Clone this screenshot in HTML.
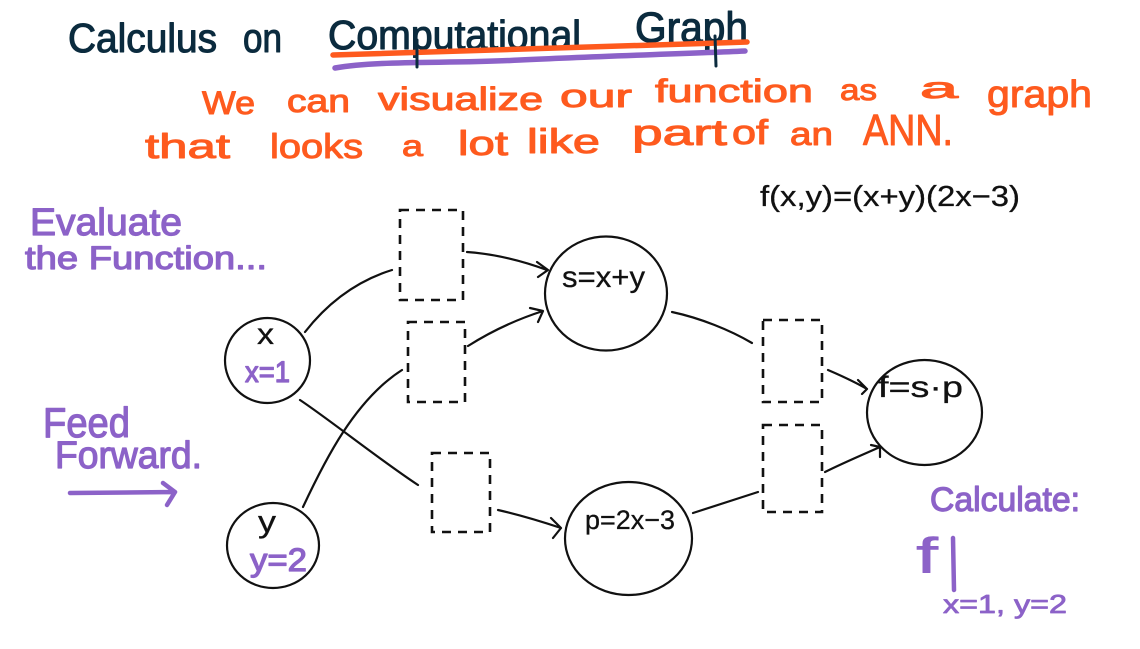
<!DOCTYPE html>
<html>
<head>
<meta charset="utf-8">
<style>
  html,body{margin:0;padding:0;background:#fff;}
  body{width:1140px;height:649px;overflow:hidden;}
  svg{display:block;}
  text{font-family:"Liberation Sans","DejaVu Sans",sans-serif;}
  .nv{fill:#0b2b3e;stroke:#0b2b3e;stroke-width:1.1;stroke-linejoin:round;}
  .or{fill:#fe5a1e;stroke:#fe5a1e;stroke-width:1.0;stroke-linejoin:round;}
  .pu{fill:#8c62c8;stroke:#8c62c8;stroke-width:1.2;stroke-linejoin:round;}
  .bk{fill:#111;stroke:#111;stroke-width:0.3;}
  .ln{fill:none;stroke:#111;stroke-width:2.2;stroke-linecap:round;stroke-linejoin:round;}
  .db{fill:none;stroke:#111;stroke-width:2.6;stroke-dasharray:9 7;stroke-linecap:butt;}
</style>
</head>
<body>
<svg width="1140" height="649" viewBox="0 0 1140 649" xmlns="http://www.w3.org/2000/svg">
  <rect width="1140" height="649" fill="#fff"/>

  <!-- Title -->
  <text class="nv" x="68" y="52" font-size="41" textLength="149" lengthAdjust="spacingAndGlyphs">Calculus</text>
  <text class="nv" x="243" y="52" font-size="41" textLength="39" lengthAdjust="spacingAndGlyphs">on</text>
  <text class="nv" x="328" y="49" font-size="41" textLength="253" lengthAdjust="spacingAndGlyphs">Computational</text>
  <text class="nv" x="635" y="42" font-size="43" textLength="113" lengthAdjust="spacingAndGlyphs">Graph</text>
  <path d="M333,55 C450,52 600,47 747,42" fill="none" stroke="#fe5a1e" stroke-width="5.5" stroke-linecap="round"/>
  <path d="M335,68 C380,60 450,64 520,60 C600,56 680,54 745,51" fill="none" stroke="#8c62c8" stroke-width="5.5" stroke-linecap="round"/>
  <path d="M417,40 L417,67 M715,36 L716,66" fill="none" stroke="#0b2b3e" stroke-width="3" stroke-linecap="round"/>

  <!-- Orange line 1 -->
  <text class="or" x="202" y="114" font-size="32" textLength="53" lengthAdjust="spacingAndGlyphs">We</text>
  <text class="or" x="287" y="112" font-size="32" textLength="63" lengthAdjust="spacingAndGlyphs">can</text>
  <text class="or" x="378" y="110" font-size="32" textLength="165" lengthAdjust="spacingAndGlyphs">visualize</text>
  <text class="or" x="560" y="107" font-size="32" textLength="72" lengthAdjust="spacingAndGlyphs">our</text>
  <text class="or" x="655" y="102" font-size="32" textLength="158" lengthAdjust="spacingAndGlyphs">function</text>
  <text class="or" x="840" y="100" font-size="30" textLength="37" lengthAdjust="spacingAndGlyphs">as</text>
  <text class="or" x="920" y="98" font-size="30" textLength="38" lengthAdjust="spacingAndGlyphs">a</text>
  <text class="or" x="987" y="107" font-size="38" textLength="105" lengthAdjust="spacingAndGlyphs">graph</text>

  <!-- Orange line 2 -->
  <text class="or" x="145" y="158" font-size="34" textLength="85" lengthAdjust="spacingAndGlyphs">that</text>
  <text class="or" x="270" y="158" font-size="34" textLength="93" lengthAdjust="spacingAndGlyphs">looks</text>
  <text class="or" x="402" y="156" font-size="30" textLength="21" lengthAdjust="spacingAndGlyphs">a</text>
  <text class="or" x="458" y="155" font-size="34" textLength="50" lengthAdjust="spacingAndGlyphs">lot</text>
  <text class="or" x="527" y="153" font-size="34" textLength="73" lengthAdjust="spacingAndGlyphs">like</text>
  <text class="or" x="632" y="145" font-size="36" textLength="95" lengthAdjust="spacingAndGlyphs">part</text>
  <text class="or" x="732" y="144" font-size="34" textLength="36" lengthAdjust="spacingAndGlyphs">of</text>
  <text class="or" x="790" y="145" font-size="32" textLength="43" lengthAdjust="spacingAndGlyphs">an</text>
  <text class="or" x="863" y="145" font-size="44" textLength="90" lengthAdjust="spacingAndGlyphs">ANN.</text>

  <!-- Formula -->
  <text class="bk" x="760" y="206" font-size="29" textLength="260" lengthAdjust="spacingAndGlyphs">f(x,y)=(x+y)(2x−3)</text>

  <!-- Left purple notes -->
  <text class="pu" x="30" y="235" font-size="38" textLength="152" lengthAdjust="spacingAndGlyphs">Evaluate</text>
  <text class="pu" x="25" y="269" font-size="32" textLength="242" lengthAdjust="spacingAndGlyphs">the Function...</text>
  <text class="pu" x="43" y="437" font-size="42" textLength="87" lengthAdjust="spacingAndGlyphs">Feed</text>
  <text class="pu" x="55" y="468" font-size="38" textLength="147" lengthAdjust="spacingAndGlyphs">Forward.</text>
  <path d="M70,493 L175,492 M163,483 L175,492 L167,505" fill="none" stroke="#8c62c8" stroke-width="4.5" stroke-linecap="round" stroke-linejoin="round"/>

  <!-- Right purple notes -->
  <text class="pu" x="930" y="511" font-size="34" textLength="150" lengthAdjust="spacingAndGlyphs">Calculate:</text>
  <text class="pu" x="916" y="573" font-size="50" textLength="22" lengthAdjust="spacingAndGlyphs" style="stroke-width:0.6">f</text>
  <path d="M953,538 L954,590" fill="none" stroke="#8c62c8" stroke-width="4.5" stroke-linecap="round"/>
  <text class="pu" x="943" y="613" font-size="26" textLength="124" lengthAdjust="spacingAndGlyphs" style="stroke-width:0.8">x=1, y=2</text>

  <!-- Nodes -->
  <ellipse class="ln" cx="267.5" cy="360.5" rx="42.5" ry="42.5"/>
  <ellipse class="ln" cx="273" cy="545.5" rx="46" ry="42.5"/>
  <ellipse class="ln" cx="606" cy="293.5" rx="61" ry="57"/>
  <ellipse class="ln" cx="628.5" cy="538.5" rx="63.5" ry="56.5"/>
  <ellipse class="ln" cx="924.5" cy="412.5" rx="57.5" ry="52.5"/>

  <!-- Node labels -->
  <text class="bk" x="257" y="344" font-size="30" textLength="17" lengthAdjust="spacingAndGlyphs">x</text>
  <text class="pu" x="245" y="382" font-size="30" textLength="45" lengthAdjust="spacingAndGlyphs" style="stroke-width:1.2">x=1</text>
  <text class="bk" x="258" y="532" font-size="31" textLength="18" lengthAdjust="spacingAndGlyphs">y</text>
  <text class="pu" x="250" y="571" font-size="32" textLength="57" lengthAdjust="spacingAndGlyphs" style="stroke-width:1.2">y=2</text>
  <text class="bk" x="562" y="287" font-size="30" textLength="83" lengthAdjust="spacingAndGlyphs">s=x+y</text>
  <text class="bk" x="585" y="529" font-size="27" textLength="90" lengthAdjust="spacingAndGlyphs">p=2x−3</text>
  <text class="bk" x="878" y="397" font-size="30" textLength="85" lengthAdjust="spacingAndGlyphs">f=s·p</text>

  <!-- Dashed boxes -->
  <rect class="db" x="400" y="210" width="63" height="90"/>
  <rect class="db" x="408" y="322" width="57" height="80"/>
  <rect class="db" x="432" y="453" width="58" height="79"/>
  <rect class="db" x="763" y="320" width="59" height="82"/>
  <rect class="db" x="763" y="425" width="59" height="87"/>

  <!-- Connectors -->
  <path class="ln" d="M305,332 C330,300 360,280 392,270"/>
  <path class="ln" d="M467,252 C495,254 520,260 547,270 M537,262 L548,270 L538,277"/>
  <path class="ln" d="M303,507 C325,460 355,400 402,370"/>
  <path class="ln" d="M468,346 C490,332 515,320 543,311 M530,308 L543,311 L538,322"/>
  <path class="ln" d="M300,400 C330,420 380,460 418,485"/>
  <path class="ln" d="M498,510 C520,515 540,521 561,528 M551,518 L561,528 L553,538"/>
  <path class="ln" d="M672,312 C700,318 730,330 752,343"/>
  <path class="ln" d="M828,370 C842,376 855,382 867,389 M858,380 L867,389 L862,394"/>
  <path class="ln" d="M693,513 C715,506 737,499 758,492"/>
  <path class="ln" d="M825,472 C843,463 862,455 880,447 M871,445 L880,447 L880,457"/>
</svg>
</body>
</html>
